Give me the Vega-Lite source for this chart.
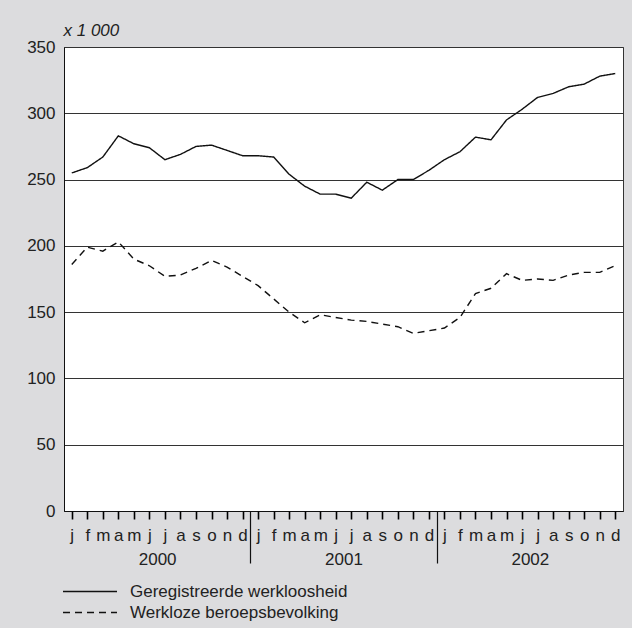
{
  "$schema": "https://vega.github.io/schema/vega-lite/v6.json",
  "width": 559,
  "height": 464,
  "autosize": {"type": "none"},
  "padding": {"left": 64, "top": 47, "right": 9, "bottom": 117},
  "background": "#dcdcde",
  "config": {
    "font": "Liberation Sans",
    "view": {"fill": "white", "stroke": "#333", "strokeWidth": 1}
  },
  "datasets": {
    "series": [
      {"m": 0, "series": "Geregistreerde werkloosheid", "v": 255},
      {"m": 1, "series": "Geregistreerde werkloosheid", "v": 259},
      {"m": 2, "series": "Geregistreerde werkloosheid", "v": 267},
      {"m": 3, "series": "Geregistreerde werkloosheid", "v": 283},
      {"m": 4, "series": "Geregistreerde werkloosheid", "v": 277},
      {"m": 5, "series": "Geregistreerde werkloosheid", "v": 274},
      {"m": 6, "series": "Geregistreerde werkloosheid", "v": 265},
      {"m": 7, "series": "Geregistreerde werkloosheid", "v": 269},
      {"m": 8, "series": "Geregistreerde werkloosheid", "v": 275},
      {"m": 9, "series": "Geregistreerde werkloosheid", "v": 276},
      {"m": 10, "series": "Geregistreerde werkloosheid", "v": 272},
      {"m": 11, "series": "Geregistreerde werkloosheid", "v": 268},
      {"m": 12, "series": "Geregistreerde werkloosheid", "v": 268},
      {"m": 13, "series": "Geregistreerde werkloosheid", "v": 267},
      {"m": 14, "series": "Geregistreerde werkloosheid", "v": 254},
      {"m": 15, "series": "Geregistreerde werkloosheid", "v": 245},
      {"m": 16, "series": "Geregistreerde werkloosheid", "v": 239},
      {"m": 17, "series": "Geregistreerde werkloosheid", "v": 239},
      {"m": 18, "series": "Geregistreerde werkloosheid", "v": 236},
      {"m": 19, "series": "Geregistreerde werkloosheid", "v": 248},
      {"m": 20, "series": "Geregistreerde werkloosheid", "v": 242},
      {"m": 21, "series": "Geregistreerde werkloosheid", "v": 250},
      {"m": 22, "series": "Geregistreerde werkloosheid", "v": 250},
      {"m": 23, "series": "Geregistreerde werkloosheid", "v": 257},
      {"m": 24, "series": "Geregistreerde werkloosheid", "v": 265},
      {"m": 25, "series": "Geregistreerde werkloosheid", "v": 271},
      {"m": 26, "series": "Geregistreerde werkloosheid", "v": 282},
      {"m": 27, "series": "Geregistreerde werkloosheid", "v": 280},
      {"m": 28, "series": "Geregistreerde werkloosheid", "v": 295},
      {"m": 29, "series": "Geregistreerde werkloosheid", "v": 303},
      {"m": 30, "series": "Geregistreerde werkloosheid", "v": 312},
      {"m": 31, "series": "Geregistreerde werkloosheid", "v": 315},
      {"m": 32, "series": "Geregistreerde werkloosheid", "v": 320},
      {"m": 33, "series": "Geregistreerde werkloosheid", "v": 322},
      {"m": 34, "series": "Geregistreerde werkloosheid", "v": 328},
      {"m": 35, "series": "Geregistreerde werkloosheid", "v": 330},
      {"m": 0, "series": "Werkloze beroepsbevolking", "v": 186},
      {"m": 1, "series": "Werkloze beroepsbevolking", "v": 199},
      {"m": 2, "series": "Werkloze beroepsbevolking", "v": 196},
      {"m": 3, "series": "Werkloze beroepsbevolking", "v": 203},
      {"m": 4, "series": "Werkloze beroepsbevolking", "v": 190},
      {"m": 5, "series": "Werkloze beroepsbevolking", "v": 185},
      {"m": 6, "series": "Werkloze beroepsbevolking", "v": 177},
      {"m": 7, "series": "Werkloze beroepsbevolking", "v": 178},
      {"m": 8, "series": "Werkloze beroepsbevolking", "v": 183},
      {"m": 9, "series": "Werkloze beroepsbevolking", "v": 189},
      {"m": 10, "series": "Werkloze beroepsbevolking", "v": 184},
      {"m": 11, "series": "Werkloze beroepsbevolking", "v": 177},
      {"m": 12, "series": "Werkloze beroepsbevolking", "v": 170},
      {"m": 13, "series": "Werkloze beroepsbevolking", "v": 160},
      {"m": 14, "series": "Werkloze beroepsbevolking", "v": 150},
      {"m": 15, "series": "Werkloze beroepsbevolking", "v": 142},
      {"m": 16, "series": "Werkloze beroepsbevolking", "v": 148},
      {"m": 17, "series": "Werkloze beroepsbevolking", "v": 146},
      {"m": 18, "series": "Werkloze beroepsbevolking", "v": 144},
      {"m": 19, "series": "Werkloze beroepsbevolking", "v": 143},
      {"m": 20, "series": "Werkloze beroepsbevolking", "v": 141},
      {"m": 21, "series": "Werkloze beroepsbevolking", "v": 139},
      {"m": 22, "series": "Werkloze beroepsbevolking", "v": 134},
      {"m": 23, "series": "Werkloze beroepsbevolking", "v": 136},
      {"m": 24, "series": "Werkloze beroepsbevolking", "v": 138},
      {"m": 25, "series": "Werkloze beroepsbevolking", "v": 146},
      {"m": 26, "series": "Werkloze beroepsbevolking", "v": 164},
      {"m": 27, "series": "Werkloze beroepsbevolking", "v": 168},
      {"m": 28, "series": "Werkloze beroepsbevolking", "v": 179},
      {"m": 29, "series": "Werkloze beroepsbevolking", "v": 174},
      {"m": 30, "series": "Werkloze beroepsbevolking", "v": 175},
      {"m": 31, "series": "Werkloze beroepsbevolking", "v": 174},
      {"m": 32, "series": "Werkloze beroepsbevolking", "v": 178},
      {"m": 33, "series": "Werkloze beroepsbevolking", "v": 180},
      {"m": 34, "series": "Werkloze beroepsbevolking", "v": 180},
      {"m": 35, "series": "Werkloze beroepsbevolking", "v": 185}
    ]
  },
  "data": {"name": "series"},
  "resolve": {"axis": {"x": "independent"}},
  "layer": [
    {
      "mark": {"type": "line", "color": "#111", "strokeWidth": 1.4},
      "encoding": {
        "x": {
          "field": "m",
          "type": "quantitative",
          "scale": {"domain": [-0.5, 35.5], "nice": false, "zero": false},
          "axis": {
            "orient": "bottom",
            "values": [0,1,2,3,4,5,6,7,8,9,10,11,12,13,14,15,16,17,18,19,20,21,22,23,24,25,26,27,28,29,30,31,32,33,34,35],
            "tickCount": 40,
            "labelExpr": "['j','f','m','a','m','j','j','a','s','o','n','d'][datum.value % 12]",
            "ticks": false,
            "tickSize": 0,
            "domainColor": "#111",
            "labelFontSize": 17,
            "labelColor": "#222",
            "labelPadding": 16,
            "labelOverlap": false,
            "labelFlush": false,
            "labelBound": false,
            "grid": false,
            "title": null
          }
        },
        "y": {
          "field": "v",
          "type": "quantitative",
          "scale": {"domain": [0, 350], "nice": false},
          "axis": {
            "values": [0, 50, 100, 150, 200, 250, 300, 350],
            "grid": true,
            "gridColor": "#333",
            "gridWidth": 1,
            "ticks": false,
            "domainColor": "#111",
            "labelFontSize": 17,
            "labelColor": "#222",
            "labelPadding": 9,
            "title": "x 1 000",
            "titleAngle": 0,
            "titleX": -1,
            "titleY": -12,
            "titleAlign": "left",
            "titleBaseline": "alphabetic",
            "titleFontStyle": "italic",
            "titleFontWeight": "normal",
            "titleFontSize": 17,
            "titleColor": "#222"
          }
        },
        "strokeDash": {
          "field": "series",
          "type": "nominal",
          "scale": {
            "domain": ["Geregistreerde werkloosheid", "Werkloze beroepsbevolking"],
            "range": [[1, 0], [7, 5]]
          },
          "legend": {
            "orient": "none",
            "legendX": -2,
            "legendY": 534,
            "title": null,
            "padding": 0,
            "symbolType": "stroke",
            "symbolSize": 2916,
            "symbolStrokeColor": "#111",
            "symbolStrokeWidth": 1.3,
            "labelFontSize": 17,
            "labelColor": "#222",
            "labelOffset": 12,
            "labelLimit": 500,
            "clipHeight": 21,
            "rowPadding": 0,
            "direction": "vertical"
          }
        }
      }
    },
    {
      "mark": {"type": "point", "opacity": 0},
      "encoding": {
        "x": {
          "field": "m",
          "type": "quantitative",
          "axis": {
            "orient": "bottom",
            "values": [5.5, 17.5, 29.5],
            "labelExpr": "datum.value < 12 ? '2000' : datum.value < 24 ? '2001' : '2002'",
            "ticks": false,
            "tickSize": 0,
            "domain": false,
            "grid": false,
            "labelFontSize": 17,
            "labelColor": "#222",
            "labelPadding": 40,
            "labelOverlap": false,
            "labelBound": false,
            "labelFlush": false,
            "title": null
          }
        }
      }
    },
    {
      "mark": {"type": "point", "opacity": 0},
      "encoding": {
        "x": {
          "field": "m",
          "type": "quantitative",
          "axis": {
            "orient": "bottom",
            "values": [11.5, 23.5],
            "ticks": true,
            "tickSize": 52,
            "tickColor": "#111",
            "tickWidth": 1.2,
            "labels": false,
            "domain": false,
            "grid": false,
            "title": null
          }
        }
      }
    },
    {
      "mark": {"type": "point", "opacity": 0},
      "encoding": {
        "x": {
          "field": "m",
          "type": "quantitative",
          "axis": {
            "orient": "bottom",
            "values": [0,1,2,3,4,5,6,7,8,9,10,11,12,13,14,15,16,17,18,19,20,21,22,23,24,25,26,27,28,29,30,31,32,33,34,35],
            "tickCount": 40,
            "ticks": true,
            "tickSize": 8,
            "tickColor": "#000",
            "tickOpacity": 1,
            "tickWidth": 1.6,
            "labels": false,
            "domain": false,
            "grid": false,
            "title": null,
            "zindex": 2
          }
        }
      }
    }
  ]
}
